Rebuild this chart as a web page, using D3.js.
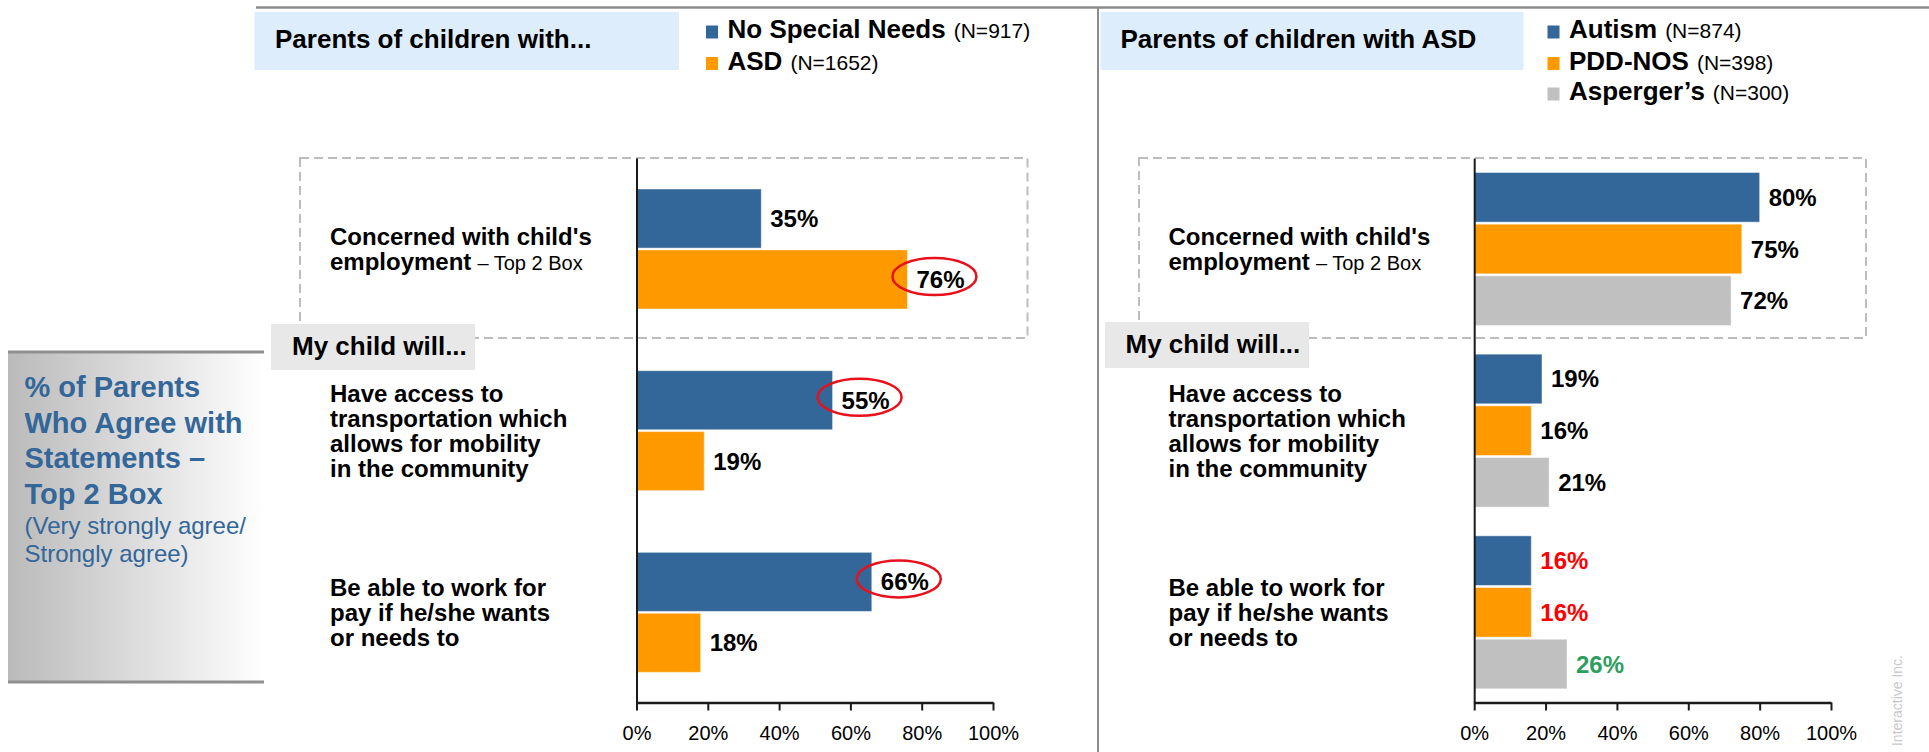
<!DOCTYPE html>
<html>
<head>
<meta charset="utf-8">
<script src="https://cdn.jsdelivr.net/npm/d3@7"></script>
<style>
  html, body { margin: 0; padding: 0; background: #ffffff; }
  svg { display: block; font-family: "Liberation Sans", Arial, sans-serif; }
</style>
</head>
<body>
<svg id="chart" width="1929" height="752"></svg>
<script>
// ---- Data ----
const categories = ["employment", "transportation", "work"];
const categoryLines = [
  ["Concerned with child's", "employment"],
  ["Have access to", "transportation which", "allows for mobility", "in the community"],
  ["Be able to work for", "pay if he/she wants", "or needs to"]
];
const categorySuffix = ["\u2013 Top 2 Box", "", ""];

const leftSeries = ["No Special Needs", "ASD"];
const leftSampleSizes = ["(N=917)", "(N=1652)"];
const noSpecialNeeds = [35, 55, 66];
const asd = [76, 19, 18];
// [series index, category index] of values ringed in red
const circledLeft = [[1, 0], [0, 1], [0, 2]];

const rightSeries = ["Autism", "PDD-NOS", "Asperger\u2019s"];
const rightSampleSizes = ["(N=874)", "(N=398)", "(N=300)"];
const autism = [80, 19, 16];
const pddNos = [75, 16, 16];
const aspergers = [72, 21, 26];
// label colours per [series][category] on the ASD panel
const rightLabelColors = [
  ["#000", "#000", "#ff0000"],
  ["#000", "#000", "#ff0000"],
  ["#000", "#000", "#2e9e5e"]
];

const tickValues = [0, 20, 40, 60, 80, 100];
const seriesColors = ["#336699", "#ff9900", "#c0c0c0"];

// ---- Canvas ----
const svg = d3.select("#chart");
const FONT_BOLD = 700;

// frame lines
svg.append("line").attr("x1", 256).attr("x2", 1929).attr("y1", 7.5).attr("y2", 7.5)
  .attr("stroke", "#8c8c8c").attr("stroke-width", 2.5);
svg.append("line").attr("x1", 1098).attr("x2", 1098).attr("y1", 7).attr("y2", 752)
  .attr("stroke", "#8c8c8c").attr("stroke-width", 2);

// side caption with grey gradient
const defs = svg.append("defs");
const grad = defs.append("linearGradient").attr("id", "sideGrad")
  .attr("x1", "0%").attr("x2", "100%").attr("y1", "0%").attr("y2", "0%");
grad.append("stop").attr("offset", "0%").attr("stop-color", "#bababa");
grad.append("stop").attr("offset", "100%").attr("stop-color", "#ffffff");

svg.append("rect").attr("x", 8).attr("y", 352).attr("width", 257).attr("height", 331)
  .attr("fill", "url(#sideGrad)");
[352, 682].forEach(y => {
  svg.append("line").attr("x1", 8).attr("x2", 264).attr("y1", y).attr("y2", y)
    .attr("stroke", "#8f8f8f").attr("stroke-width", 3);
});
const sideTitle = ["% of Parents", "Who Agree with", "Statements \u2013", "Top 2 Box"];
const sideTitleY = [396.7, 432.5, 468, 503.5];
sideTitle.forEach((t, i) => {
  svg.append("text").attr("x", 24.5).attr("y", sideTitleY[i])
    .attr("font-size", 29).attr("font-weight", FONT_BOLD).attr("fill", "#336699").text(t);
});
const sideSub = ["(Very strongly agree/", "Strongly agree)"];
const sideSubY = [533.5, 561.5];
sideSub.forEach((t, i) => {
  svg.append("text").attr("x", 24.5).attr("y", sideSubY[i])
    .attr("font-size", 24).attr("fill", "#336699").text(t);
});

// watermark
svg.append("text")
  .attr("transform", "translate(1902,655) rotate(-90)")
  .attr("text-anchor", "end")
  .attr("font-size", 14).attr("fill", "#c8c8c8")
  .text("Interactive Inc.");

// ---- Panel builder ----
function drawPanel(opt) {
  const g = svg.append("g");

  // header box
  g.append("rect").attr("x", opt.header.x).attr("y", 12)
    .attr("width", opt.header.w).attr("height", 58).attr("fill", "#deedfb");
  g.append("text").attr("x", opt.header.x + opt.header.tx).attr("y", 47.5)
    .attr("font-size", 26).attr("font-weight", FONT_BOLD).attr("fill", "#000")
    .text(opt.header.text);

  // legend
  const legendY = [38, 69.5, 100];
  opt.series.forEach((s, i) => {
    g.append("rect").attr("x", opt.legendX).attr("y", legendY[i] - 12.5)
      .attr("width", 12).attr("height", 13).attr("fill", seriesColors[i]);
    const t = g.append("text").attr("x", opt.legendX + 21.5).attr("y", legendY[i]);
    t.append("tspan").attr("font-size", 26).attr("font-weight", FONT_BOLD).text(s);
    t.append("tspan").attr("font-size", 21).attr("dx", 8).text(opt.sampleSizes[i]);
  });

  // scales
  const x = d3.scaleLinear().domain([0, 100]).range(opt.xRange);
  const y0 = d3.scaleBand().domain(categories).range([158, 703]).padding(0);
  const y1 = d3.scaleBand().domain(opt.series)
    .range(opt.innerRange).paddingInner(opt.innerPad);

  // dashed frame around the first statement
  g.append("rect").attr("x", opt.dash.x).attr("y", 158)
    .attr("width", opt.dash.w).attr("height", 180)
    .attr("fill", "none").attr("stroke", "#bdbdbd").attr("stroke-width", 2)
    .attr("stroke-dasharray", "9,5");

  // "My child will..." tag
  g.append("rect").attr("x", opt.tag.x).attr("y", opt.tag.y)
    .attr("width", opt.tag.w).attr("height", 46).attr("fill", "#e8e8e8");
  g.append("text").attr("x", opt.tag.x + opt.tag.tx).attr("y", opt.tag.y + 31)
    .attr("font-size", 26).attr("font-weight", FONT_BOLD).text("My child will...");

  // category labels
  categories.forEach((c, ci) => {
    const lines = categoryLines[ci];
    const cy = y0(c) + y0.bandwidth() / 2;
    const lh = 25;
    lines.forEach((ln, li) => {
      const t = g.append("text").attr("x", opt.catX)
        .attr("y", cy + (li - (lines.length - 1) / 2) * lh + 8.5);
      t.append("tspan").attr("font-size", 24).attr("font-weight", FONT_BOLD).text(ln);
      if (li === lines.length - 1 && categorySuffix[ci]) {
        t.append("tspan").attr("font-size", 20).attr("dx", 6).text(categorySuffix[ci]);
      }
    });
  });

  // bars
  const rows = [];
  opt.values.forEach((vals, si) => {
    vals.forEach((v, ci) => rows.push({ si, ci, v, s: opt.series[si], c: categories[ci] }));
  });
  g.selectAll("rect.bar").data(rows).join("rect").attr("class", "bar")
    .attr("x", x(0))
    .attr("y", d => y0(d.c) + y1(d.s))
    .attr("width", d => x(d.v) - x(0))
    .attr("height", y1.bandwidth())
    .attr("fill", d => seriesColors[d.si])
    .attr("stroke", "rgba(255,255,255,0.45)").attr("stroke-width", 1);

  // value labels
  g.selectAll("text.val").data(rows).join("text").attr("class", "val")
    .attr("x", d => x(d.v) + 9)
    .attr("y", d => y0(d.c) + y1(d.s) + y1.bandwidth() / 2 + 8.5)
    .attr("font-size", 24).attr("font-weight", FONT_BOLD)
    .attr("fill", d => opt.labelColor(d))
    .text(d => d.v + "%");

  // red rings around highlighted values
  if (opt.circled) {
    const ringRows = rows.filter(d => opt.circled.some(p => p[0] === d.si && p[1] === d.ci));
    g.selectAll("ellipse.ring").data(ringRows).join("ellipse").attr("class", "ring")
      .attr("cx", d => x(d.v) + 27)
      .attr("cy", d => y0(d.c) + y1(d.s) + y1.bandwidth() / 2 - 3)
      .attr("rx", 42).attr("ry", 18.5)
      .attr("fill", "none").attr("stroke", "#e8101a").attr("stroke-width", 2.5);
  }

  // axes
  const yAxis = g.append("g").attr("transform", `translate(${x(0)},0)`)
    .call(d3.axisLeft(y0).tickSize(0).tickSizeOuter(0).tickFormat(""));
  yAxis.select(".domain").attr("stroke", "#1a1a1a").attr("stroke-width", 2);

  const xAxis = g.append("g").attr("transform", "translate(0,702.5)")
    .call(d3.axisBottom(x).tickValues(tickValues).tickSize(8).tickSizeOuter(0)
      .tickFormat(d => d + "%"));
  xAxis.select(".domain").attr("stroke", "#1a1a1a").attr("stroke-width", 2.5);
  xAxis.selectAll(".tick line").attr("stroke", "#1a1a1a").attr("stroke-width", 2);
  xAxis.selectAll(".tick text").attr("y", 37.5).attr("dy", null)
    .attr("font-size", 20).attr("font-family", "Liberation Sans, Arial, sans-serif")
    .attr("fill", "#000");
}

drawPanel({
  header: { x: 254.5, w: 424.5, tx: 20.5, text: "Parents of children with..." },
  series: leftSeries,
  sampleSizes: leftSampleSizes,
  legendX: 706,
  xRange: [636.5, 993],
  innerRange: [31, 151],
  innerPad: 0.03,
  dash: { x: 300, w: 727.5 },
  tag: { x: 271, y: 324, w: 204, tx: 21 },
  catX: 330,
  values: [noSpecialNeeds, asd],
  labelColor: () => "#000",
  circled: circledLeft
});

drawPanel({
  header: { x: 1100.5, w: 423, tx: 20, text: "Parents of children with ASD" },
  series: rightSeries,
  sampleSizes: rightSampleSizes,
  legendX: 1547.5,
  xRange: [1474.2, 1831],
  innerRange: [14.5, 167.5],
  innerPad: 0.04,
  dash: { x: 1139, w: 727 },
  tag: { x: 1105, y: 322, w: 204, tx: 20.5 },
  catX: 1168.5,
  values: [autism, pddNos, aspergers],
  labelColor: d => rightLabelColors[d.si][d.ci],
  circled: null
});
</script>
</body>
</html>
